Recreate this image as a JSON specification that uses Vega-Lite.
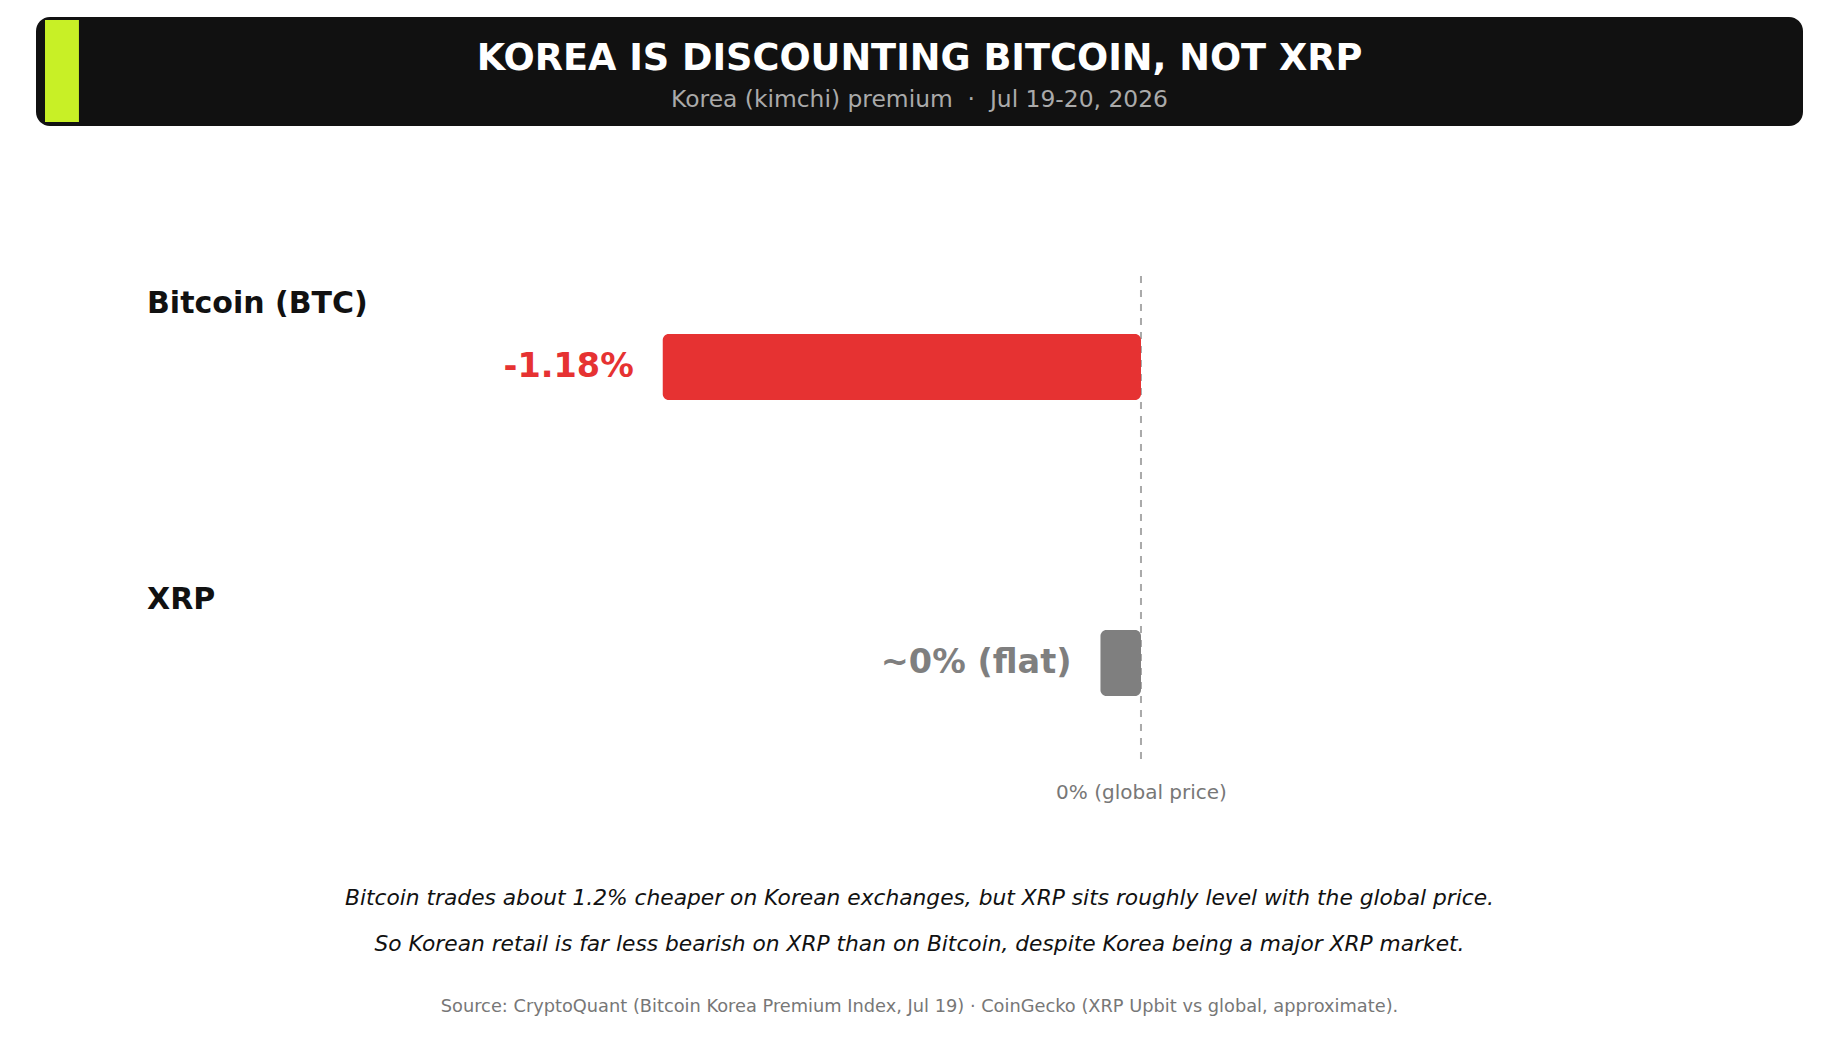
{
  "$schema": "https://vega.github.io/schema/vega-lite/v6.json",
  "background": "#ffffff",
  "padding": {"left": 36, "top": 17, "right": 37, "bottom": 0},
  "config": {"font": "DejaVu Sans", "view": {"stroke": null}},
  "spacing": 150,
  "bounds": "flush",
  "vconcat": [
    {
      "width": 1767,
      "height": 109,
      "view": {"fill": "#111111", "cornerRadius": 14, "stroke": null},
      "data": {"values": [{"title": "KOREA IS DISCOUNTING BITCOIN, NOT XRP", "subtitle": "Korea (kimchi) premium\u00a0\u00a0·\u00a0\u00a0Jul 19-20, 2026"}]},
      "layer": [
        {
          "mark": {"type": "rect", "color": "#c8f026"},
          "encoding": {
            "x": {"datum": 0.0051, "type": "quantitative", "scale": {"domain": [0, 1], "nice": false, "zero": false}, "axis": null},
            "x2": {"datum": 0.0243},
            "y": {"datum": 0.0275, "type": "quantitative", "scale": {"domain": [0, 1], "reverse": true, "nice": false, "zero": false}, "axis": null},
            "y2": {"datum": 0.9633}
          }
        },
        {
          "mark": {"type": "text", "fontSize": 36.7, "fontWeight": "bold", "color": "#ffffff", "baseline": "middle", "align": "center"},
          "encoding": {
            "text": {"field": "title"},
            "y": {"datum": 0.381, "type": "quantitative"}
          }
        },
        {
          "mark": {"type": "text", "fontSize": 23.4, "color": "#aaaaaa", "baseline": "middle", "align": "center"},
          "encoding": {
            "text": {"field": "subtitle"},
            "y": {"datum": 0.761, "type": "quantitative"}
          }
        }
      ]
    },
    {
      "spacing": 20,
      "bounds": "flush",
      "vconcat": [
        {
          "width": 1767,
          "height": 484,
          "data": {"values": [
            {"asset": "Bitcoin (BTC)", "premium": -1.18, "label": "-1.18%"},
            {"asset": "XRP", "premium": -0.1, "label": "~0% (flat)"}
          ]},
          "layer": [
            {
              "mark": {"type": "rule", "strokeDash": [7, 7], "color": "#aaaaaa", "strokeWidth": 2},
              "encoding": {
                "x": {"datum": 0, "type": "quantitative", "scale": {"domain": [-2.7264, 1.6334], "nice": false, "zero": false}}
              }
            },
            {
              "mark": {"type": "bar", "height": 66, "cornerRadius": 6},
              "encoding": {
                "x": {
                  "field": "premium", "type": "quantitative",
                  "scale": {"domain": [-2.7264, 1.6334], "nice": false, "zero": false},
                  "axis": {"orient": "bottom", "values": [0], "labelExpr": "'0% (global price)'", "title": null, "domain": false, "ticks": false, "tickSize": 0, "grid": false, "labelFontSize": 20, "labelColor": "#777777", "labelPadding": 22, "labelFlush": false, "labelFont": "DejaVu Sans"}
                },
                "x2": {"datum": 0},
                "y": {
                  "field": "asset", "type": "nominal", "sort": null,
                  "scale": {"type": "point", "padding": 0, "range": [91, 387]},
                  "axis": {"orient": "left", "title": null, "domain": false, "ticks": false, "tickSize": 0, "grid": false, "labelAlign": "left", "labelPadding": -110.5, "labelOffset": -64, "labelBaseline": "middle", "labelFontSize": 30, "labelFontWeight": "bold", "labelColor": "#111111", "labelLimit": 600, "labelFont": "DejaVu Sans"}
                },
                "color": {"field": "asset", "type": "nominal", "scale": {"domain": ["Bitcoin (BTC)", "XRP"], "range": ["#e63232", "#7f7f7f"]}, "legend": null}
              }
            },
            {
              "mark": {"type": "text", "align": "right", "baseline": "middle", "dx": -29, "fontSize": 33.5, "fontWeight": "bold"},
              "encoding": {
                "x": {"field": "premium", "type": "quantitative"},
                "y": {"field": "asset", "type": "nominal", "sort": null},
                "text": {"field": "label"},
                "color": {"field": "asset", "type": "nominal", "legend": null}
              }
            }
          ]
        },
        {
          "width": 1767,
          "height": 180,
          "data": {"values": [
            {"line": "a", "text": "Bitcoin trades about 1.2% cheaper on Korean exchanges, but XRP sits roughly level with the global price."},
            {"line": "b", "text": "So Korean retail is far less bearish on XRP than on Bitcoin, despite Korea being a major XRP market."}
          ]},
          "mark": {"type": "text", "fontSize": 21.75, "fontStyle": "italic", "color": "#111111", "baseline": "middle", "align": "center"},
          "encoding": {
            "y": {"field": "line", "type": "nominal", "scale": {"type": "point", "padding": 0, "range": [117.7, 163.5]}, "axis": null},
            "text": {"field": "text"}
          }
        },
        {
          "width": 1767,
          "height": 54,
          "data": {"values": [
            {"text": "Source: CryptoQuant (Bitcoin Korea Premium Index, Jul 19) · CoinGecko (XRP Upbit vs global, approximate)."}
          ]},
          "mark": {"type": "text", "fontSize": 17.8, "color": "#777777", "baseline": "middle", "align": "center"},
          "encoding": {
            "text": {"field": "text"}
          }
        }
      ]
    }
  ]
}
